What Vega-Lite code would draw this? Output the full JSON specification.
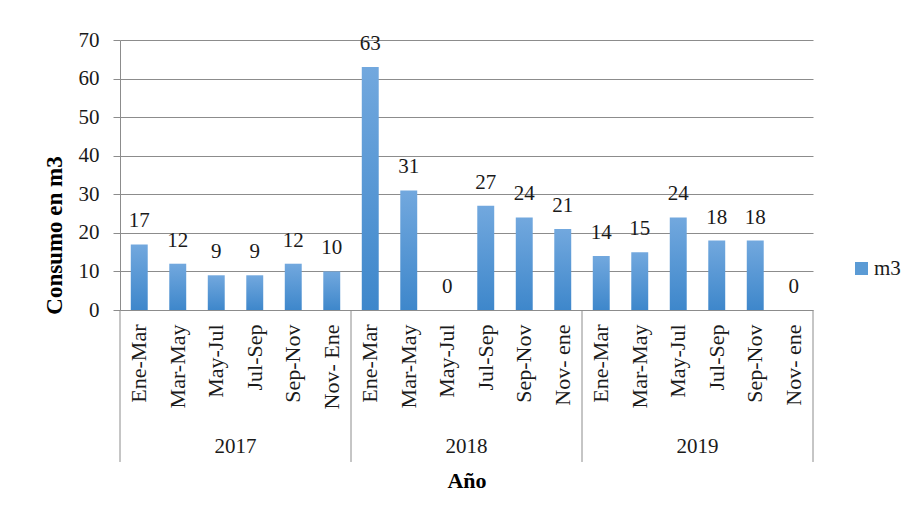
{
  "$schema": "https://vega.github.io/schema/vega-lite/v6.json",
  "width": 693,
  "height": 270,
  "autosize": {"type": "none"},
  "padding": {"left": 120, "top": 40, "right": 102, "bottom": 213},
  "background": "white",
  "config": {
    "view": {"stroke": null},
    "font": "Liberation Serif",
    "text": {"font": "Liberation Serif"},
    "legend": {"labelFont": "Liberation Serif"},
    "axisY": {
      "labelOverlap": false,
      "grid": true,
      "gridColor": "#8c8c8c",
      "domainColor": "#8c8c8c",
      "tickColor": "#8c8c8c",
      "tickSize": 7,
      "labelPadding": 14,
      "labelFont": "Liberation Serif",
      "labelFontSize": 21,
      "labelColor": "#1a1a1a",
      "titleFont": "Liberation Serif",
      "titleFontSize": 23,
      "titleFontWeight": "bold",
      "titleColor": "#000000"
    },
    "axisX": {
      "labelAngle": -90,
      "labelPadding": 14,
      "labelOverlap": false,
      "ticks": false,
      "domain": false,
      "grid": false,
      "labelFont": "Liberation Serif",
      "labelFontSize": 22,
      "labelColor": "#1a1a1a",
      "titleFont": "Liberation Serif",
      "titleFontSize": 22,
      "titleFontWeight": "bold",
      "titleColor": "#000000"
    }
  },
  "datasets": {
    "consumo": [
      {"anio": "2017", "periodo": "Ene-Mar", "key": "2017|Ene-Mar", "m3": 17},
      {"anio": "2017", "periodo": "Mar-May", "key": "2017|Mar-May", "m3": 12},
      {"anio": "2017", "periodo": "May-Jul", "key": "2017|May-Jul", "m3": 9},
      {"anio": "2017", "periodo": "Jul-Sep", "key": "2017|Jul-Sep", "m3": 9},
      {"anio": "2017", "periodo": "Sep-Nov", "key": "2017|Sep-Nov", "m3": 12},
      {"anio": "2017", "periodo": "Nov- Ene", "key": "2017|Nov- Ene", "m3": 10},
      {"anio": "2018", "periodo": "Ene-Mar", "key": "2018|Ene-Mar", "m3": 63},
      {"anio": "2018", "periodo": "Mar-May", "key": "2018|Mar-May", "m3": 31},
      {"anio": "2018", "periodo": "May-Jul", "key": "2018|May-Jul", "m3": 0},
      {"anio": "2018", "periodo": "Jul-Sep", "key": "2018|Jul-Sep", "m3": 27},
      {"anio": "2018", "periodo": "Sep-Nov", "key": "2018|Sep-Nov", "m3": 24},
      {"anio": "2018", "periodo": "Nov- ene", "key": "2018|Nov- ene", "m3": 21},
      {"anio": "2019", "periodo": "Ene-Mar", "key": "2019|Ene-Mar", "m3": 14},
      {"anio": "2019", "periodo": "Mar-May", "key": "2019|Mar-May", "m3": 15},
      {"anio": "2019", "periodo": "May-Jul", "key": "2019|May-Jul", "m3": 24},
      {"anio": "2019", "periodo": "Jul-Sep", "key": "2019|Jul-Sep", "m3": 18},
      {"anio": "2019", "periodo": "Sep-Nov", "key": "2019|Sep-Nov", "m3": 18},
      {"anio": "2019", "periodo": "Nov- ene", "key": "2019|Nov- ene", "m3": 0}
    ],
    "separadores": [
      {"key": "2017|Ene-Mar"},
      {"key": "2018|Ene-Mar"},
      {"key": "2019|Ene-Mar"}
    ],
    "fin": [{"key": "2019|Nov- ene"}],
    "anios": [
      {"anio": "2017", "key": "2017|May-Jul"},
      {"anio": "2018", "key": "2018|May-Jul"},
      {"anio": "2019", "key": "2019|May-Jul"}
    ]
  },
  "layer": [
    {
      "data": {"name": "consumo"},
      "mark": {
        "type": "bar",
        "width": {"band": 0.44},
        "fill": {
          "gradient": "linear",
          "x1": 0, "y1": 0, "x2": 0, "y2": 1,
          "stops": [
            {"offset": 0, "color": "#72a8de"},
            {"offset": 1, "color": "#3e87cb"}
          ]
        }
      },
      "encoding": {
        "x": {
          "field": "key",
          "type": "nominal",
          "scale": {
            "domain": ["2017|Ene-Mar", "2017|Mar-May", "2017|May-Jul", "2017|Jul-Sep", "2017|Sep-Nov", "2017|Nov- Ene",
                       "2018|Ene-Mar", "2018|Mar-May", "2018|May-Jul", "2018|Jul-Sep", "2018|Sep-Nov", "2018|Nov- ene",
                       "2019|Ene-Mar", "2019|Mar-May", "2019|May-Jul", "2019|Jul-Sep", "2019|Sep-Nov", "2019|Nov- ene"],
            "paddingInner": 0,
            "paddingOuter": 0
          },
          "axis": {
            "title": "Año",
            "labelExpr": "split(datum.label, '|')[1]",
            "titleY": 170,
            "titleBaseline": "middle"
          }
        },
        "y": {
          "field": "m3",
          "type": "quantitative",
          "scale": {"domain": [0, 70], "nice": false},
          "axis": {
            "title": "Consumo en m3",
            "values": [0, 10, 20, 30, 40, 50, 60, 70],
            "tickCount": 20,
            "titleX": -66,
            "titleY": 195,
            "titleBaseline": "middle"
          }
        }
      }
    },
    {
      "data": {"name": "consumo"},
      "mark": {"type": "text", "baseline": "alphabetic", "dy": -17, "font": "Liberation Serif", "fontSize": 21, "color": "#1a1a1a"},
      "encoding": {
        "x": {"field": "key", "type": "nominal"},
        "y": {"field": "m3", "type": "quantitative"},
        "text": {"field": "m3", "type": "quantitative"}
      }
    },
    {
      "data": {"name": "separadores"},
      "mark": {"type": "rule", "color": "#8c8c8c", "strokeWidth": 1},
      "encoding": {
        "x": {"field": "key", "type": "nominal", "bandPosition": 0},
        "y": {"datum": 0, "type": "quantitative"},
        "y2": {"datum": -39.4}
      }
    },
    {
      "data": {"name": "fin"},
      "mark": {"type": "rule", "color": "#8c8c8c", "strokeWidth": 1},
      "encoding": {
        "x": {"field": "key", "type": "nominal", "bandPosition": 1},
        "y": {"datum": 0, "type": "quantitative"},
        "y2": {"datum": -39.4}
      }
    },
    {
      "data": {"name": "anios"},
      "mark": {"type": "text", "baseline": "middle", "font": "Liberation Serif", "fontSize": 21, "color": "#1a1a1a"},
      "encoding": {
        "x": {"field": "key", "type": "nominal", "bandPosition": 1},
        "y": {"datum": -35.5, "type": "quantitative"},
        "text": {"field": "anio", "type": "nominal"}
      }
    },
    {
      "data": {"name": "consumo"},
      "mark": {"type": "square", "size": 0, "strokeWidth": 0},
      "encoding": {
        "x": {"field": "key", "type": "nominal"},
        "y": {"field": "m3", "type": "quantitative"},
        "color": {
          "datum": "m3",
          "scale": {"range": ["#5b9bd5"]},
          "legend": {
            "title": null,
            "orient": "none",
            "legendX": 731,
            "legendY": 218,
            "padding": 0,
            "symbolType": "square",
            "symbolSize": 169,
            "symbolOpacity": 1,
            "symbolStrokeWidth": 0,
            "labelFont": "Liberation Serif",
            "labelFontSize": 21,
            "labelColor": "#1a1a1a",
            "labelOffset": 2
          }
        }
      }
    }
  ]
}
